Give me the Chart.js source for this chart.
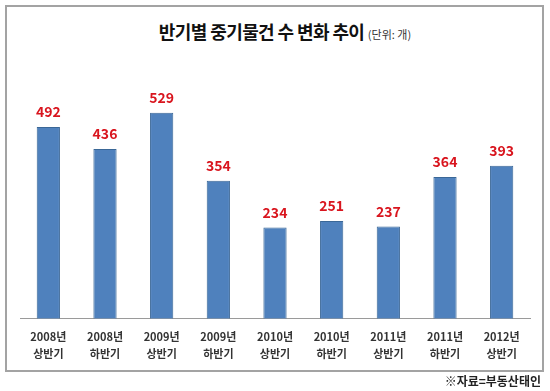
<!DOCTYPE html>
<html>
<head>
<meta charset="utf-8">
<script src="https://cdn.jsdelivr.net/npm/chart.js@4"></script>
<style>
  body { margin: 0; background: #fff; font-family: "Noto Sans CJK KR", sans-serif; }
  #wrap { position: relative; width: 550px; height: 391px; }
  #box { position: absolute; left: 5px; top: 5px; width: 535px; height: 363px; border: 2px solid #a3a3a3; }
  #title { position: absolute; left: 10px; width: 550px; top: 18px; text-align: center; font-weight: bold; font-size: 18px; letter-spacing: -0.6px; color: #111; }
  #title span { font-size: 11px; font-weight: normal; letter-spacing: 0; color: #333; }
  #src { position: absolute; right: 9px; top: 372px; font-size: 12px; font-weight: bold; color: #222; }
  canvas { position: absolute; left: 0; top: 0; }
</style>
</head>
<body>
<div id="wrap">
  <div id="box"></div>
  <div id="title">반기별 중기물건 수 변화 추이 <span>(단위: 개)</span></div>
  <canvas id="grafico" width="550" height="391"></canvas>
  <div id="src">※자료=부동산태인</div>
</div>
<script>
const anos = ['2008년', '2008년', '2009년', '2009년', '2010년', '2010년', '2011년', '2011년', '2012년'];
const semestres = ['상반기', '하반기', '상반기', '하반기', '상반기', '하반기', '상반기', '하반기', '상반기'];
const valores = [492, 436, 529, 354, 234, 251, 237, 364, 393];

// rotulos vermelhos em cima das barras
const rotulos = {
  id: 'rotulos',
  afterDatasetsDraw(chart) {
    const ctx = chart.ctx;
    ctx.save();
    ctx.font = 'bold 14px "Noto Sans CJK KR"';
    ctx.fillStyle = '#d9151e';
    ctx.textAlign = 'center';
    ctx.textBaseline = 'middle';
    chart.getDatasetMeta(0).data.forEach((bar, i) => {
      ctx.fillText(valores[i], bar.x, bar.y - 15);
    });
    ctx.restore();
  }
};

new Chart(document.getElementById('grafico').getContext('2d'), {
  type: 'bar',
  data: {
    labels: anos.map((a, i) => [a, semestres[i]]),
    datasets: [{
      data: valores,
      backgroundColor: '#4f81bd',
      borderColor: '#3a6797',
      borderWidth: 1,
      categoryPercentage: 0.82,
      barPercentage: 0.5
    }]
  },
  options: {
    responsive: false,
    animation: false,
    layout: { padding: { left: 20, right: 20, top: 85, bottom: 19 } },
    plugins: { legend: { display: false }, tooltip: { enabled: false } },
    scales: {
      y: { min: 0, max: 600, display: false },
      x: {
        grid: { display: false, drawTicks: false },
        border: { color: '#9a9a9a', width: 1 },
        ticks: {
          color: '#333',
          padding: 9,
          font: { family: '"Noto Sans CJK KR"', size: 11, weight: 'bold', lineHeight: 1.6 }
        }
      }
    }
  },
  plugins: [rotulos]
});
</script>
</body>
</html>
